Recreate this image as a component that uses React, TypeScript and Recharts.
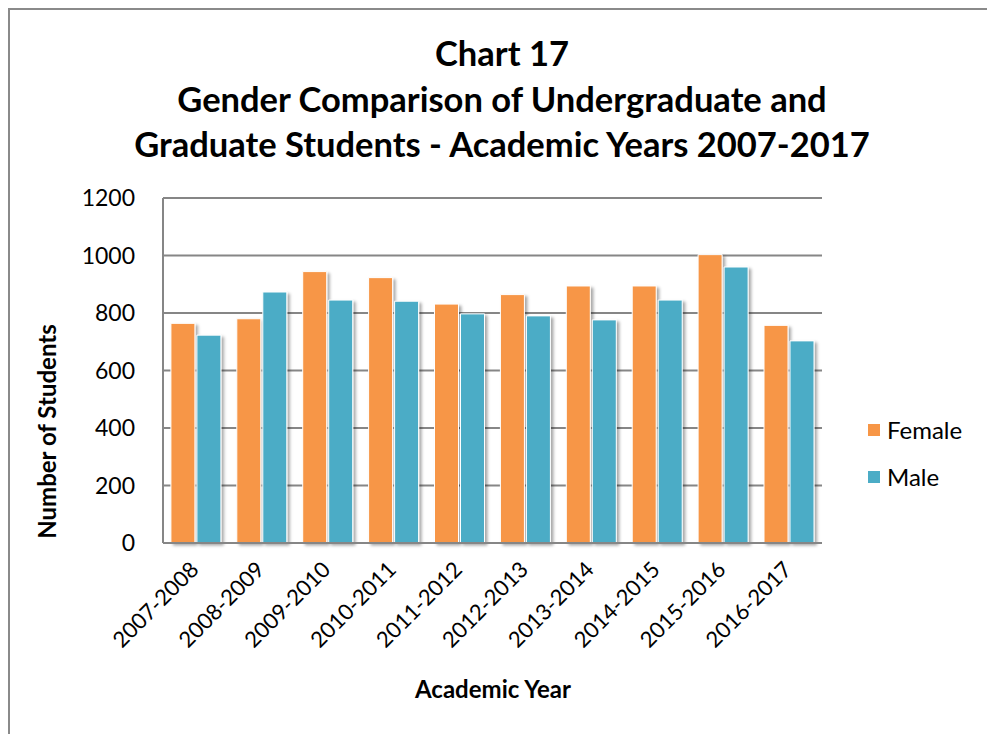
import React from 'react';
import { BarChart, Bar, XAxis, YAxis, CartesianGrid, Legend, Rectangle } from 'recharts';

const years = ['2007-2008', '2008-2009', '2009-2010', '2010-2011', '2011-2012', '2012-2013', '2013-2014', '2014-2015', '2015-2016', '2016-2017'];
const female = [764, 780, 944, 923, 831, 864, 894, 894, 1003, 757];
const male = [723, 873, 845, 841, 797, 790, 776, 845, 960, 703];
const yTicks = [0, 200, 400, 600, 800, 1000, 1200];
const titleLines = ['Chart 17', 'Gender Comparison of Undergraduate and', 'Graduate Students - Academic Years 2007-2017'];

const data = years.map((y, i) => ({ year: y, Female: female[i], Male: male[i] }));

const FONT = 'Lato, "Open Sans", sans-serif';
const FEMALE_COLOR = '#F79646';
const MALE_COLOR = '#4BACC6';
const GRID = '#868686';

const XTick = (props: any) => {
  const { x, y, payload } = props;
  return (
    <g transform={`translate(${x + 4},${y + 20})`}>
      <text x={0} y={0} textAnchor="end" transform="rotate(-45)" fontSize={22} fontFamily={FONT} fill="#000">
        {payload.value}
      </text>
    </g>
  );
};

const ShadowBar = (props: any) => <Rectangle {...props} filter="url(#barShadow)" />;

const renderLegend = (props: any) => {
  const { payload } = props;
  return (
    <div style={{ fontFamily: FONT }}>
      {payload.map((entry: any) => (
        <div key={entry.value} style={{ display: 'flex', alignItems: 'center', height: 47 }}>
          <div style={{ width: 12, height: 12, background: entry.color, marginRight: 7 }} />
          <span style={{ fontSize: 24, color: '#000' }}>{entry.value}</span>
        </div>
      ))}
    </div>
  );
};

export default function App() {
  return (
    <div style={{ position: 'absolute', left: 0, top: 0, width: 987, height: 734, overflow: 'hidden', background: '#fff' }}>
      <div style={{ position: 'absolute', left: 8, top: 8, width: 1100, height: 900, border: '2px solid #8a8a8a' }} />
      <div style={{ position: 'absolute', left: 0, top: 0 }}>
        <BarChart
          width={987}
          height={734}
          data={data}
          margin={{ top: 198, right: 45, bottom: 131, left: 103 }}
          barCategoryGap="12%"
          barGap={2}
        >
          <defs>
            <filter id="barShadow" x="-20%" y="-20%" width="150%" height="150%">
              <feDropShadow dx="2.5" dy="2" stdDeviation="1.5" floodColor="#000" floodOpacity="0.35" />
            </filter>
          </defs>
          <CartesianGrid vertical={false} stroke={GRID} strokeWidth={2} />
          <XAxis
            dataKey="year"
            height={60}
            interval={0}
            tick={<XTick />}
            tickLine={false}
            axisLine={{ stroke: GRID, strokeWidth: 2 }}
          />
          <YAxis
            width={60}
            domain={[0, 1200]}
            ticks={yTicks}
            tickLine={false}
            tickMargin={22}
            axisLine={{ stroke: GRID, strokeWidth: 2 }}
            tick={{ fontSize: 23, fill: '#000', fontFamily: FONT }}
          />
          <Legend
            layout="vertical"
            align="right"
            verticalAlign="middle"
            content={renderLegend}
            wrapperStyle={{ left: 868, top: 406, width: 120 }}
          />
          <Bar dataKey="Female" fill={FEMALE_COLOR} stroke="#fff" strokeWidth={1} shape={ShadowBar} isAnimationActive={false} />
          <Bar dataKey="Male" fill={MALE_COLOR} stroke="#fff" strokeWidth={1} shape={ShadowBar} isAnimationActive={false} />
        </BarChart>
      </div>
      <div style={{ position: 'absolute', left: 2, top: 30, width: 1000, textAlign: 'center', fontFamily: FONT, fontWeight: 'bold', fontSize: 34.5, lineHeight: '45.5px', color: '#000' }}>
        {titleLines.map((t) => (
          <div key={t}>{t}</div>
        ))}
      </div>
      <div style={{ position: 'absolute', left: 343, top: 674, width: 300, textAlign: 'center', fontFamily: FONT, fontWeight: 'bold', fontSize: 24, color: '#000' }}>
        Academic Year
      </div>
      <div style={{ position: 'absolute', left: 46, top: 432, width: 0, height: 0 }}>
        <div style={{ position: 'absolute', left: -150, top: -15, width: 300, textAlign: 'center', transform: 'rotate(-90deg)', fontFamily: FONT, fontWeight: 'bold', fontSize: 24, color: '#000' }}>
          Number of Students
        </div>
      </div>
    </div>
  );
}
